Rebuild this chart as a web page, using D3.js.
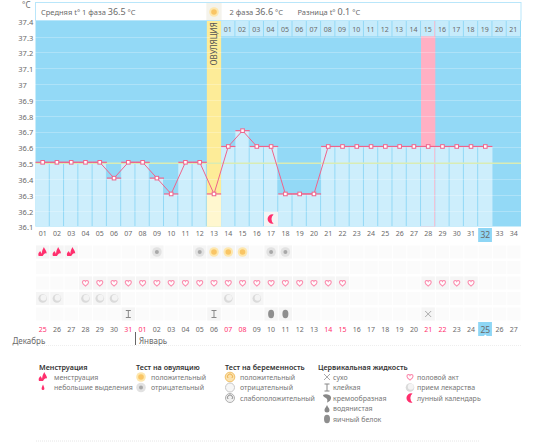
<!DOCTYPE html>
<html lang="ru">
<head>
<meta charset="utf-8">
<title>График базальной температуры</title>
<script src="https://cdn.jsdelivr.net/npm/d3@7"></script>
<style>
  html, body { margin: 0; padding: 0; background: #fff; }
  svg { display: block; font-family: "Noto Sans", sans-serif; }
</style>
</head>
<body>
<svg id="chart" width="550" height="442"></svg>
<script>
// Basal temperature per cycle day (days 1..32)
const temperatures = [36.5, 36.5, 36.5, 36.5, 36.5, 36.4, 36.5, 36.5, 36.4, 36.3, 36.5, 36.5, 36.3,
  36.6, 36.7, 36.6, 36.6, 36.3, 36.3, 36.3, 36.6, 36.6, 36.6, 36.6, 36.6, 36.6, 36.6, 36.6, 36.6, 36.6, 36.6, 36.6];
const cycleDays = d3.range(1, 35);
const tempTicks = [36.1, 36.2, 36.3, 36.4, 36.5, 36.6, 36.7, 36.8, 36.9, 37, 37.1, 37.2, 37.3, 37.4];
const coverLine = 36.5;
const ovulationDay = 13;
const expectedPeriodDay = 28;
const todayDay = 32;
const secondPhaseLabels = ["01","02","03","04","05","06","07","08","09","10","11","12","13","14","15","16","17","18","19","20","21"];
const calendarDates = ["25","26","27","28","29","30","31","01","02","03","04","05","06","07","08","09","10","11","12","13","14","15","16","17","18","19","20","21","22","23","24","25","26","27"];
const markedDates = [1, 7, 8, 14, 15, 21, 22, 28, 29];

// Daily observations, by cycle day
const menstruationDays = [1, 2, 3];
const ovulationPositiveDays = [13, 14, 15];
const ovulationNegativeDays = [9, 12, 17, 18];
const intercourseDays = [4,5,6,7,8,9,10,11,12,13,14,15,16,17,18,19,20,21,22,28,29,30,31];
const medicationDays = [1, 2, 4, 5, 6, 14, 16];
const stickyDays = [7, 13];
const eggWhiteDays = [17, 18];
const dryDays = [28];
const moonDays = [17];

const headerTexts = [
  { x: 41, parts: ["Средняя t° 1 фаза ", "36.5", " °C"] },
  { x: 229.5, parts: ["2 фаза ", "36.6", " °C"] },
  { x: 297.5, parts: ["Разница t° ", "0.1", " °C"] }
];

const legendColumns = [
  { title: "Менструация", x: 39, iconX: 43, textX: 54, items: [["menstruation", "менструация"], ["spotting", "небольшие выделения"]] },
  { title: "Тест на овуляцию", x: 136, iconX: 141, textX: 151, items: [["ovPos", "положительный"], ["ovNeg", "отрицательный"]] },
  { title: "Тест на беременность", x: 225, iconX: 230, textX: 240, items: [["pregPos", "положительный"], ["pregNeg", "отрицательный"], ["pregWeak", "слабоположительный"]] },
  { title: "Цервикальная жидкость", x: 318, iconX: 327, textX: 333, items: [["dry", "сухо"], ["sticky", "клейкая"], ["creamy", "кремообразная"], ["watery", "водянистая"], ["eggWhite", "яичный белок"]] },
  { title: "", x: 410, iconX: 410, textX: 417, items: [["heart", "половой акт"], ["pill", "прием лекарства"], ["moon", "лунный календарь"]] }
];

const colors = { sky: "#93d9f6", bar: "#cdeefc", cell: "#c6ebfb", yellow: "#fdec98", paleYellow: "#fff7cf",
  pink: "#ffb0c4", line: "#f0648c", cover: "#d9ecb4", text: "#6a6a6a", red: "#ff2f6d" };

const svg = d3.select("#chart");
const x = d3.scaleBand().domain(cycleDays).range([35.5, 521]);
const y = d3.scaleLinear().domain([36.1, 37.4]).range([226.5, 20.8]);
const bw = x.bandwidth();
const cx = d => x(d) + bw / 2;
const tempAt = d => temperatures[d - 1];
// Temperature marks sit a touch above their grid line
const markLift = 0.9;

// Chart field
svg.append("rect").attr("x", x.range()[0]).attr("y", y(37.4)).attr("width", x.range()[1] - x.range()[0])
  .attr("height", y(36.1) - y(37.4)).attr("fill", colors.sky);

// Ovulation and expected period columns, full height
svg.selectAll(".col").data([[ovulationDay, colors.yellow], [expectedPeriodDay, colors.pink]]).join("rect")
  .attr("x", d => x(d[0])).attr("y", y(37.4)).attr("width", bw).attr("height", y(36.1) - y(37.4)).attr("fill", d => d[1]);

// Temperature bars, each narrowed so the field shows through as a separator
const days = temperatures.map((t, i) => i + 1);
svg.selectAll(".bar").data(days).join("rect")
  .attr("x", d => x(d)).attr("y", d => y(tempAt(d)) - markLift)
  .attr("width", d => (d === days.length || d === ovulationDay) ? bw : bw - 1).attr("height", d => y(36.1) - y(tempAt(d)) + markLift)
  .attr("fill", d => d === ovulationDay ? colors.paleYellow : colors.bar);

// Dotted temperature grid
svg.selectAll(".grid").data(tempTicks.slice(1, -1)).join("line")
  .attr("x1", x.range()[0]).attr("x2", x.range()[1]).attr("y1", d => Math.round(y(d)) + 0.5).attr("y2", d => Math.round(y(d)) + 0.5)
  .attr("stroke", "#fff").attr("stroke-opacity", 0.5).attr("stroke-width", 1).attr("stroke-dasharray", "1 1");

// Cover line
svg.append("line").attr("x1", x.range()[0]).attr("x2", x.range()[1]).attr("y1", y(coverLine)).attr("y2", y(coverLine))
  .attr("stroke", colors.cover).attr("stroke-width", 1.6);

// Header box
svg.append("rect").attr("x", 35.5).attr("y", 2.5).attr("width", 485.5).attr("height", 18)
  .attr("fill", "#fff").attr("stroke", "#b9e6fa");
svg.append("rect").attr("x", x(ovulationDay) - 0.5).attr("y", 3).attr("width", bw + 1).attr("height", 17).attr("fill", "#f4f3ec");

const header = svg.selectAll(".hdr").data(headerTexts).join("text")
  .attr("x", d => d.x).attr("y", 14.5).attr("font-size", 7.5).attr("fill", colors.text);
header.selectAll("tspan").data(d => d.parts).join("tspan")
  .attr("font-size", (d, i) => i === 1 ? 9 : 7.5).text(d => d);

// Second-phase day labels across the top of the field
const phaseStart = ovulationDay + 1;
const phase = svg.selectAll(".phase").data(secondPhaseLabels).join("g")
  .attr("transform", (d, i) => `translate(${x(phaseStart + i)},${y(37.4)})`);
phase.append("rect").attr("width", bw - 1).attr("height", 15.5).attr("fill", colors.cell);
phase.append("text").attr("x", (bw - 1) / 2).attr("y", 11).attr("text-anchor", "middle").attr("font-size", 7)
  .attr("fill", colors.text).text(d => d);

svg.append("text").attr("transform", `translate(${cx(ovulationDay) + 3},65.5) rotate(-90)`)
  .attr("font-size", 8).attr("fill", "#555").text("ОВУЛЯЦИЯ");

// Temperature line: a column-wide segment at each value, joined point to point
const marks = svg.append("g").attr("transform", `translate(0,${-markLift})`);
marks.selectAll(".seg").data(days).join("line")
  .attr("x1", d => x(d)).attr("x2", d => x(d) + bw).attr("y1", d => y(tempAt(d))).attr("y2", d => y(tempAt(d)))
  .attr("stroke", colors.line).attr("stroke-width", 1.2);
marks.append("path").datum(days)
  .attr("d", d3.line().x(cx).y(d => y(tempAt(d))))
  .attr("fill", "none").attr("stroke", colors.line).attr("stroke-width", 1);
marks.selectAll(".pt").data(days).join("rect")
  .attr("x", d => cx(d) - 1.8).attr("y", d => y(tempAt(d)) - 1.8).attr("width", 3.6).attr("height", 3.6)
  .attr("fill", "#fff").attr("stroke", colors.line).attr("stroke-width", 1);

// Temperature axis
const yAxis = svg.append("g").attr("transform", "translate(33,1)")
  .call(d3.axisLeft(y).tickValues(tempTicks).tickSize(0).tickPadding(0).tickFormat(d3.format("~g")));
yAxis.select(".domain").remove();
yAxis.selectAll("text").attr("x", -14.7).attr("text-anchor", "start").attr("font-size", 7.5)
  .attr("font-family", '"Noto Sans", sans-serif').attr("fill", colors.text);
svg.append("text").attr("x", 22).attr("y", 8).attr("font-size", 8).attr("fill", colors.text).text("°C");

// Cycle day axis, with the current day highlighted behind its label
svg.append("rect").attr("x", x(todayDay)).attr("y", 228).attr("width", bw - 0.5).attr("height", 14).attr("fill", "#8ed6f5");
const dayAxis = svg.append("g").attr("transform", "translate(0,231.5)")
  .call(d3.axisBottom(x).tickSize(0).tickPadding(0).tickFormat(d3.format("02d")));
dayAxis.select(".domain").remove();
dayAxis.selectAll("text").attr("font-size", d => d === todayDay ? 8.5 : 7).attr("font-family", '"Noto Sans", sans-serif').attr("fill", colors.text);

// Observation rows
const rowY = d3.scalePoint().domain(["ov", "preg", "sex", "med", "cerv"]).range([252, 314]);
svg.selectAll(".rowcell").data(d3.cross(rowY.domain(), cycleDays)).join("rect")
  .attr("x", d => x(d[1]) + 0.5).attr("y", d => rowY(d[0]) - 6.5).attr("width", bw - 1).attr("height", 13)
  .attr("fill", "#fbfbfb");

// Icon drawings, all centred on the origin
const icons = {
  menstruation: g => {
    g.append("path").attr("fill", "#ff2f6d").attr("d", "M-4 4C-5 1 -3 0 -2.5 -1C-2 0 -1 1 -1 2L-0.5 -1C0 -3 1 -4 1.2 -5C2 -3 4 -1 4 1L4 1.5C3 1 2 1.5 1 2.5L0 4Z");
  },
  spotting: g => {
    g.append("path").attr("fill", "#ff2f6d").attr("d", "M0 -3C0.8 -1 1.4 0 1.4 1.2A1.4 1.4 0 0 1 -1.4 1.2C-1.4 0 -0.8 -1 0 -3Z");
  },
  ovPos: g => {
    g.append("circle").attr("r", 4.8).attr("fill", "#fde7ae");
    g.append("circle").attr("r", 2.8).attr("fill", "#f9c565");
  },
  ovNeg: g => {
    g.append("circle").attr("r", 4.8).attr("fill", "#e2e2e2");
    g.append("circle").attr("r", 2).attr("fill", "#a8a8a8");
  },
  pregPos: g => {
    g.append("circle").attr("r", 4.8).attr("fill", "#fbe2ae").attr("stroke", "#f2c26b");
    g.append("path").attr("d", "M-2 1A2.5 2.5 0 1 1 2 1").attr("fill", "none").attr("stroke", "#eeb04a");
  },
  pregNeg: g => {
    g.append("circle").attr("r", 4.5).attr("fill", "#f6f6f6").attr("stroke", "#c8c8c8");
  },
  pregWeak: g => {
    g.append("circle").attr("r", 4.5).attr("fill", "#f0f0f0").attr("stroke", "#b0b0b0");
    g.append("path").attr("d", "M-2 1A2.5 2.5 0 1 1 2 1").attr("fill", "none").attr("stroke", "#8a8a8a");
  },
  dry: g => {
    g.append("path").attr("d", "M-3 -3L3 3M-3 3L3 -3").attr("stroke", "#aaa").attr("stroke-width", 1);
  },
  sticky: g => {
    g.append("path").attr("d", "M-2.5 -3.5H2.5M-2.5 3.5H2.5M0 -3.5V3.5").attr("stroke", "#888").attr("stroke-width", 1).attr("fill", "none");
  },
  creamy: g => {
    g.append("path").attr("fill", "#888").attr("d", "M-4 -3C-2 -4.5 3 -4 4 -1C4.5 2 2 4 0 4.5C1 2 0 0 -2 -0.5C-3 -0.8 -4 -2 -4 -3Z");
  },
  watery: g => {
    g.append("path").attr("fill", "#888").attr("d", "M0 -3.5C0.8 -1.5 2.5 0 2.5 1.5A2.5 2.5 0 0 1 -2.5 1.5C-2.5 0 -0.8 -1.5 0 -3.5Z");
  },
  eggWhite: g => {
    g.append("ellipse").attr("rx", 3).attr("ry", 4.2).attr("fill", "#8e8e8e");
  },
  heart: g => {
    g.append("path").attr("fill", "#fff").attr("stroke", "#fb8cae").attr("stroke-width", 1.3)
      .attr("transform", "scale(0.85)")
      .attr("d", "M0 3.6C-2 2 -3.6 0.8 -3.6 -1A1.9 1.9 0 0 1 0 -1.8A1.9 1.9 0 0 1 3.6 -1C3.6 0.8 2 2 0 3.6Z");
  },
  pill: g => {
    g.append("circle").attr("r", 4.3).attr("fill", "#dadada");
    g.append("circle").attr("cx", 0.8).attr("cy", -0.8).attr("r", 3).attr("fill", "#f4f4f4");
  },
  moon: g => {
    g.append("path").attr("fill", "#ff2f6d").attr("d", "M2.5 -4.5A4.7 4.7 0 1 0 2.5 4.5A5.8 5.8 0 0 1 2.5 -4.5Z");
  }
};
const placeIcon = (name, px, py) => {
  const g = svg.append("g").attr("transform", `translate(${px},${py})`);
  icons[name](g);
};

// Ovulation sun in the header
placeIcon("ovPos", cx(ovulationDay), 12);

const observationRows = [
  ["ov", "menstruation", menstruationDays],
  ["ov", "ovPos", ovulationPositiveDays],
  ["ov", "ovNeg", ovulationNegativeDays],
  ["sex", "heart", intercourseDays],
  ["med", "pill", medicationDays],
  ["cerv", "sticky", stickyDays],
  ["cerv", "eggWhite", eggWhiteDays],
  ["cerv", "dry", dryDays]
];
observationRows.forEach(([row, icon, list]) => {
  list.forEach(day => {
    svg.append("rect").attr("x", x(day) + 0.5).attr("y", rowY(row) - 6.5).attr("width", bw - 1).attr("height", 13).attr("fill", "#f5f5f5");
    placeIcon(icon, cx(day), rowY(row));
  });
});

// Moon phase marker inside the chart field
moonDays.forEach(day => {
  svg.append("rect").attr("x", x(day)).attr("y", 212).attr("width", bw).attr("height", 14.5).attr("fill", "#f4f4f4");
  placeIcon("moon", cx(day), 219);
});

// Calendar dates
svg.append("rect").attr("x", x(todayDay)).attr("y", 322).attr("width", bw - 0.5).attr("height", 14).attr("fill", "#8ed6f5");
svg.append("path").attr("transform", `translate(${cx(todayDay)},336)`).attr("d", "M-1.5 0L0 -1.5L1.5 0Z").attr("fill", "#fff");
svg.selectAll(".date").data(calendarDates).join("text")
  .attr("x", (d, i) => cx(i + 1)).attr("y", (d, i) => i + 1 === todayDay ? 332.5 : 332).attr("text-anchor", "middle")
  .attr("font-size", (d, i) => i + 1 === todayDay ? 8.5 : 7)
  .attr("fill", (d, i) => markedDates.includes(i + 1) ? colors.red : colors.text).text(d => d);

// Month labels with their divider
svg.append("text").attr("x", 12.5).attr("y", 344).attr("font-size", 8).attr("fill", colors.text).text("Декабрь");
svg.append("text").attr("x", 139).attr("y", 344).attr("font-size", 8).attr("fill", colors.text).text("Январь");
svg.append("line").attr("x1", 135.5).attr("x2", 135.5).attr("y1", 332).attr("y2", 345).attr("stroke", "#666");
svg.append("line").attr("x1", 36).attr("x2", 521).attr("y1", 345.5).attr("y2", 345.5).attr("stroke", "#eee").attr("stroke-dasharray", "1 1");

// Legend
const legendItemY = d3.scaleLinear().domain([0, 4]).range([377, 419]);
legendColumns.forEach(col => {
  if (col.title) {
    svg.append("text").attr("x", col.x).attr("y", 370).attr("font-size", 7.2).attr("font-weight", 600).attr("fill", "#333").text(col.title);
  }
  col.items.forEach(([icon, label], i) => {
    placeIcon(icon, col.iconX, legendItemY(i));
    svg.append("text").attr("x", col.textX).attr("y", legendItemY(i) + 2.5).attr("font-size", 7).attr("fill", "#777").text(label);
  });
});
svg.append("line").attr("x1", 36).attr("x2", 480).attr("y1", 441).attr("y2", 441).attr("stroke", "#e6e6e6").attr("stroke-dasharray", "1 1");
</script>
</body>
</html>
